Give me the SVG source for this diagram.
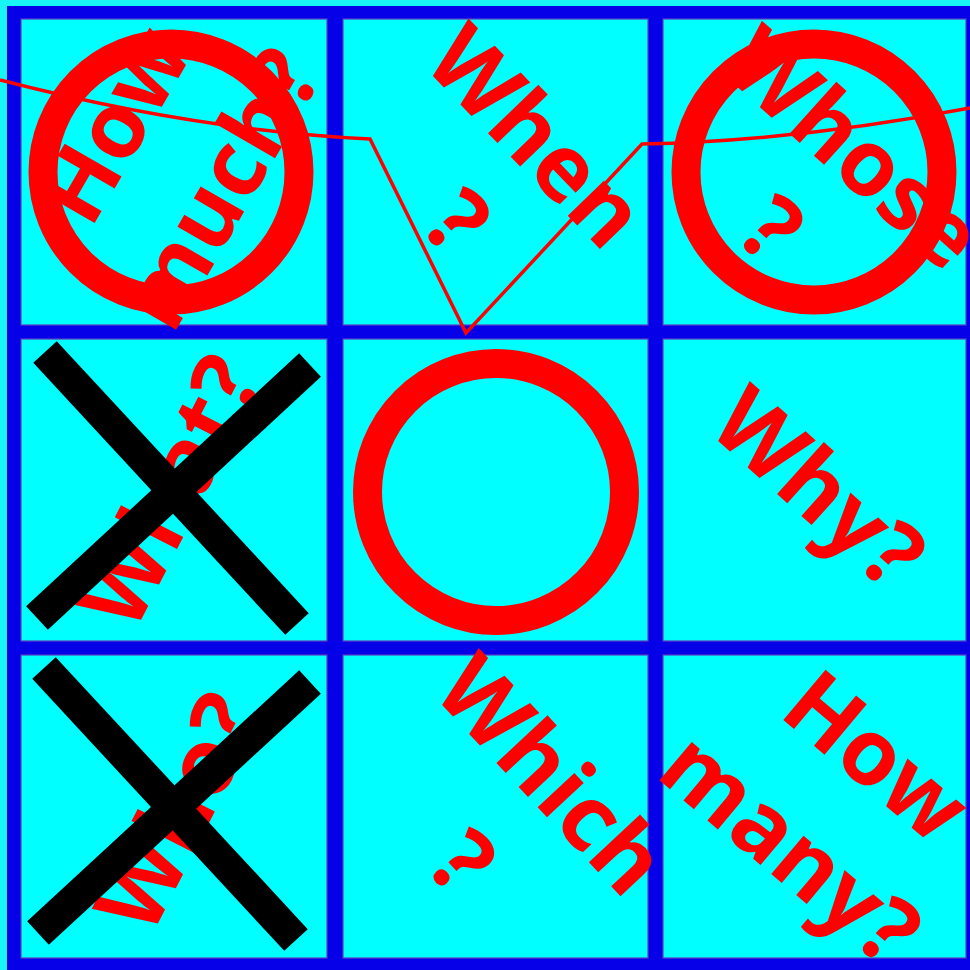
<svg xmlns="http://www.w3.org/2000/svg" width="970" height="970" viewBox="0 0 970 970">
<style>
.cell{fill:#00ffff;stroke:#5a3cc0;stroke-width:1.2}
.ring{fill:none;stroke:#ff0000;stroke-width:29}
.xbar{stroke:#000;stroke-width:32;stroke-linecap:butt}
.lbl{font-family:"Open Sans","Noto Sans","DejaVu Sans",sans-serif;font-weight:bold;font-size:92px;fill:#ff0000;text-anchor:middle}
.win{fill:none;stroke:#ff0000;stroke-width:3.5;stroke-linejoin:miter}
</style>
<rect x="0" y="0" width="970" height="970" fill="#19f5f5"/>
<rect x="7" y="6" width="963" height="964" fill="#0500e8"/>
<g id="cell-1-1">
<rect class="cell" x="21" y="19" width="306" height="306"/>
<circle class="ring" cx="171" cy="172" r="128"/>
<text class="lbl" transform="translate(142,141) rotate(-60)">How</text>
<text class="lbl" transform="translate(248,205) rotate(-60)">much?</text>
</g>
<g id="cell-1-2">
<rect class="cell" x="343" y="19" width="305" height="306"/>
<text class="lbl" transform="translate(513,159) rotate(46)">When</text>
<text class="lbl" transform="translate(434,244) rotate(46)">?</text>
</g>
<g id="cell-1-3">
<rect class="cell" x="663" y="19" width="303" height="306"/>
<circle class="ring" cx="814" cy="172" r="128"/>
<text class="lbl" transform="translate(832,172) rotate(42)">Whose</text>
<text class="lbl" transform="translate(750,253) rotate(42)">?</text>
</g>
<g id="cell-2-1">
<rect class="cell" x="21" y="339" width="306" height="302"/>
<text class="lbl" transform="translate(199,506) rotate(-63)">What?</text>
<line class="xbar" x1="45" y1="352" x2="297" y2="624"/>
<line class="xbar" x1="310" y1="365" x2="37" y2="618"/>
</g>
<g id="cell-2-2">
<rect class="cell" x="343" y="339" width="305" height="302"/>
<circle class="ring" cx="496" cy="492" r="128.5"/>
</g>
<g id="cell-2-3">
<rect class="cell" x="663" y="339" width="303" height="302"/>
<text class="lbl" transform="translate(797,512) rotate(42)">Why?</text>
</g>
<g id="cell-3-1">
<rect class="cell" x="21" y="655" width="306" height="303"/>
<text class="lbl" transform="translate(207,827) rotate(-63)">Who?</text>
<line class="xbar" x1="44" y1="668" x2="296" y2="940"/>
<line class="xbar" x1="310" y1="682" x2="38" y2="933"/>
</g>
<g id="cell-3-2">
<rect class="cell" x="343" y="655" width="305" height="303"/>
<text class="lbl" transform="translate(528,797) rotate(47)">Which</text>
<text class="lbl" transform="translate(439,884) rotate(47)">?</text>
</g>
<g id="cell-3-3">
<rect class="cell" x="663" y="655" width="303" height="303"/>
<text class="lbl" transform="translate(856,781) rotate(40)">How</text>
<text class="lbl" transform="translate(770,873) rotate(40)">many?</text>
</g>
<g id="connectors">
<path class="win" d="M0,80 Q193,130 370,139 L466,333 L642,144 Q797,141 970,108"/>
</g>
</svg>
